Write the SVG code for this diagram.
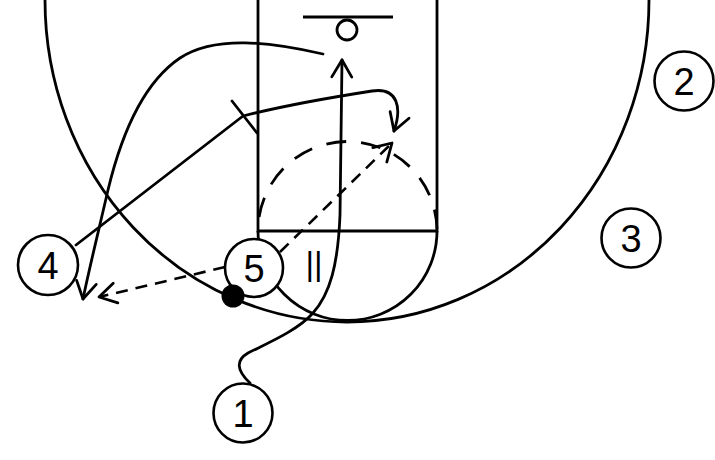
<svg xmlns="http://www.w3.org/2000/svg" width="715" height="460" viewBox="0 0 715 460">
<style>
.court{fill:none;stroke:#000;stroke-width:2.8}
.path{fill:none;stroke:#000;stroke-width:2.8;stroke-linecap:round;stroke-linejoin:round}
.pass{fill:none;stroke:#000;stroke-width:2.6;stroke-dasharray:12 8}
.player circle{fill:#fff;stroke:#000;stroke-width:2.6}
.player text{font-family:"Liberation Sans",Arial,sans-serif;font-size:38px;text-anchor:middle;fill:#000}
</style>
<defs>
<marker id="arrow" viewBox="-20 -12 23 24" refX="0" refY="0" markerWidth="23" markerHeight="24" markerUnits="userSpaceOnUse" orient="auto" overflow="visible">
<path d="M-17,-10 L0,0 L-17,10" fill="none" stroke="#000" stroke-width="2.8" stroke-linecap="round" stroke-linejoin="round"/>
</marker>
</defs>
<rect width="715" height="460" fill="#fff"/>
<g id="court">
<path class="court" d="M45,0 A302,322 0 0 0 649,0"/>
<path class="court" d="M258,0 V231 H437 V0"/>
<path class="court" d="M258,231 A89.5,89.5 0 0 0 437,231"/>
<path class="court" d="M258,231 A89.5,89.5 0 0 1 437,231" stroke-dasharray="20 15" stroke-dashoffset="-14"/>
<line class="court" x1="303" y1="17" x2="393" y2="17"/>
<circle class="court" cx="347" cy="30" r="10"/>
</g>
<g id="connectors">
<path class="path" d="M250,383 C236,370 236,360 248,353 C270,342 298,330 313,313 C330,294 338,265 340,215 L342,60" marker-end="url(#arrow)"/>
<path class="path" d="M323,54 C270,42 215,35 180,58 C140,85 120,140 108,190 C100,225 90,265 83,299" marker-end="url(#arrow)"/>
<path class="path" d="M76,245 L243,116 C290,104 340,96 372,91 C398,87 402,108 394,131" marker-end="url(#arrow)"/>
<line class="path" x1="232" y1="101" x2="257" y2="133"/>
<path class="pass" d="M280,252 L392,143" marker-end="url(#arrow)"/>
<path class="pass" d="M225,267 L99,297" marker-end="url(#arrow)"/>
</g>
<g id="screen-mark">
<text x="314" y="275" font-family="Liberation Sans, Arial, sans-serif" font-size="33" text-anchor="middle">||</text>
</g>
<g id="player1" class="player"><circle cx="243" cy="413" r="29.5"/><text x="243" y="427">1</text></g>
<g id="player2" class="player"><circle cx="684" cy="81" r="29.5"/><text x="684" y="95">2</text></g>
<g id="player3" class="player"><circle cx="631" cy="238" r="29.5"/><text x="631" y="252">3</text></g>
<g id="player4" class="player"><circle cx="48" cy="265" r="30"/><text x="48" y="279">4</text></g>
<g id="player5" class="player"><circle cx="254" cy="268" r="29"/><text x="254" y="282">5</text></g>
<g id="ball"><circle cx="233" cy="296" r="11.5" fill="#000"/></g>
</svg>
